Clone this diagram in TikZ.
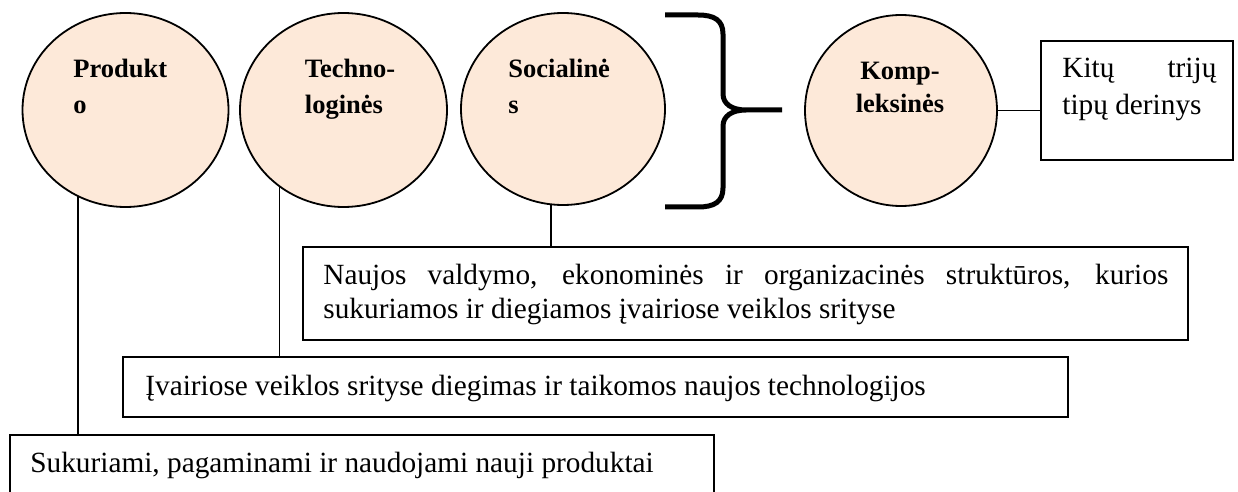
\documentclass[tikz,border=0pt]{standalone}
\usepackage{fontspec}
\setmainfont{Liberation Serif}
\usetikzlibrary{shapes.geometric,calc}
\definecolor{peach}{HTML}{FDE9D9}
\begin{document}
\begin{tikzpicture}[x=0.5pt,y=-0.5pt,
  kind/.style={ellipse,draw=black,line width=0.9pt,fill=peach,inner sep=0pt,outer sep=0pt},
  frame/.style={draw=black,line width=0.9pt,inner sep=0pt,outer sep=0pt,anchor=north west},
  title/.style={font=\fontsize{13.25}{17.75}\selectfont\bfseries,inner sep=0pt,anchor=base west},
  body/.style={font=\fontsize{14.65}{17}\selectfont,inner sep=0pt,anchor=base west},
  link/.style={line width=0.8pt},
]
\useasboundingbox (0,0) rectangle (1238,492);

% innovation kinds
\node[kind,minimum width=103pt,minimum height=97pt] (prod) at (125.5,110) {};
\node[kind,minimum width=103.5pt,minimum height=97pt] (tech) at (343.5,110) {};
\node[kind,minimum width=102pt,minimum height=96pt] (soc)  at (563,109) {};
\node[kind,minimum width=96pt,minimum height=95.5pt] (komp) at (901,110.5) {};

\node[title] (prodT) at (73,78)    {\parbox[t]{60pt}{Produkt\\o}};
\node[title] (techT) at (304.5,78) {\parbox[t]{60pt}{Techno-\\loginės}};
\node[title] (socT)  at (508,78)   {\parbox[t]{60pt}{Socialinė\\s}};
\node[title,anchor=base,font=\fontsize{13.25}{16.5}\selectfont\bfseries] (kompT) at (900,80)
  {\parbox[t]{80pt}{\centering Komp-\\leksinės}};

% description boxes
\node[frame,minimum width=352pt,minimum height=35pt]   (b1) at (10,435)  {};
\node[frame,minimum width=472.5pt,minimum height=30pt] (b2) at (123,357) {};
\node[frame,minimum width=442.5pt,minimum height=46.5pt] (b3) at (303,247) {};
\node[frame,minimum width=96pt,minimum height=59.5pt]  (kb) at (1041,41) {};

\node[body] (b1T) at (30,472)  {Sukuriami, pagaminami ir naudojami nauji produktai};
\node[body] (b2T) at (145,395) {Įvairiose veiklos srityse diegimas ir taikomos naujos technologijos};
\node[body] (b3T) at (323,285) {\parbox[t]{422.5pt}{\makebox[422.5pt][s]{Naujos valdymo, ekonominės ir organizacinės struktūros, kurios}\\sukuriamos ir diegiamos įvairiose veiklos srityse}};
\node[body,font=\fontsize{14.65}{18.25}\selectfont] (kbT) at (1062,78) {\parbox[t]{77pt}{\makebox[77pt][s]{Kitų trijų}\\tipų derinys}};

% connectors
\draw[link] (prod.-119) -- (prod.-119 |- b1.north);
\draw[link] (tech.-130) -- (tech.-130 |- b2.north);
\draw[link] (soc.-97)   -- (soc.-97 |- b3.north);
\draw[link] (komp.east) -- (komp.east -| kb.west);

% brace grouping the first three kinds
\draw[line width=2.5pt] (665,15) -- (698,15)
  .. controls (714,15) and (723,20) .. (723,34) -- (723,94)
  .. controls (723,104) and (732,110) .. (746,110) -- (782,110)
  -- (746,110) .. controls (732,110) and (723,116) .. (723,126) -- (723,188)
  .. controls (723,202) and (714,207) .. (698,207) -- (665,207);
\end{tikzpicture}
\end{document}
